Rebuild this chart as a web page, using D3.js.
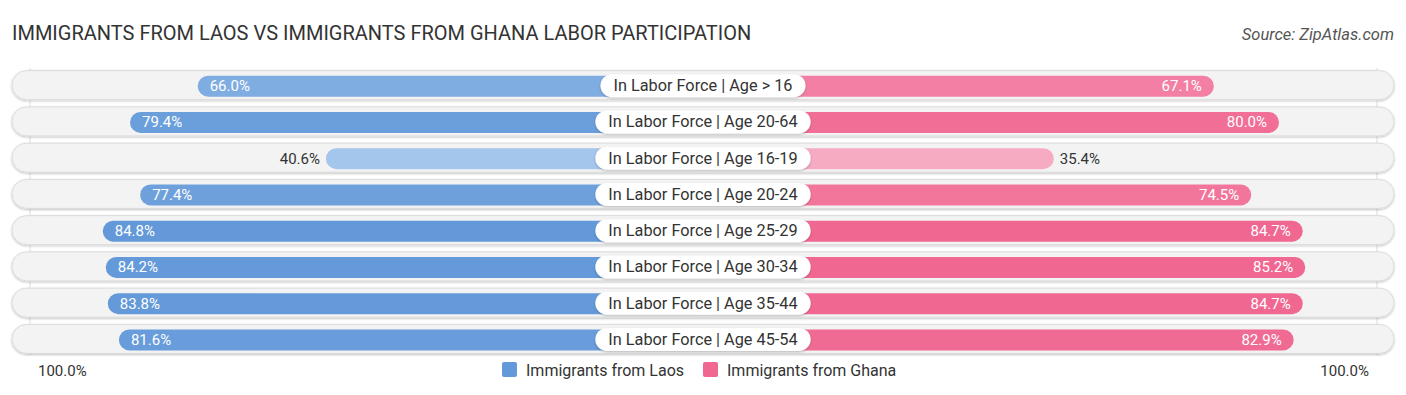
<!DOCTYPE html>
<html lang="en">
<head>
  <meta charset="UTF-8">
  <title>Labor Participation</title>
  <script src="https://d3js.org/d3.v7.min.js"></script>
  <style>
    body { margin: 0; background: #fff; font-family: Roboto, "Noto Sans", sans-serif; }
    .title { font-size: 20px; fill: #333; }
    .source { font-size: 16.5px; fill: #555; font-style: italic; }
  </style>
</head>
<body>
  <div id="chart"></div>
  <script>
    // data
    const categories = [
      "In Labor Force | Age > 16",
      "In Labor Force | Age 20-64",
      "In Labor Force | Age 16-19",
      "In Labor Force | Age 20-24",
      "In Labor Force | Age 25-29",
      "In Labor Force | Age 30-34",
      "In Labor Force | Age 35-44",
      "In Labor Force | Age 45-54"
    ];
    const laos = [66.0, 79.4, 40.6, 77.4, 84.8, 84.2, 83.8, 81.6];
    const ghana = [67.1, 80.0, 35.4, 74.5, 84.7, 85.2, 84.7, 82.9];
    const seriesNames = ["Immigrants from Laos", "Immigrants from Ghana"];
    const axisLabels = ["100.0%", "100.0%"];

    const W = 1406, H = 395;
    const svg = d3.select("#chart").append("svg")
      .attr("width", W).attr("height", H);

    const defs = svg.append("defs");
    const sh = defs.append("filter").attr("id", "shadow")
      .attr("x", "-10%").attr("y", "-30%").attr("width", "120%").attr("height", "170%");
    sh.append("feDropShadow").attr("dx", 0).attr("dy", 1).attr("stdDeviation", 1)
      .attr("flood-color", "#000").attr("flood-opacity", 0.25);

    svg.append("text").attr("class", "title").attr("x", 12).attr("y", 40)
      .text("IMMIGRANTS FROM LAOS VS IMMIGRANTS FROM GHANA LABOR PARTICIPATION");
    svg.append("text").attr("class", "source").attr("x", 1394).attr("y", 40)
      .attr("text-anchor", "end").text("Source: ZipAtlas.com");

    // scales
    const y = d3.scaleBand().domain(categories).range([67, 357]).paddingInner(0.2).paddingOuter(0.1);
    const xL = d3.scaleLinear().domain([0, 100]).range([531, 26]);
    const xR = d3.scaleLinear().domain([0, 100]).range([875, 1380]);
    const blue = d3.scaleLinear().domain([30, 85]).range(["#b3d0f0", "#6399d9"]).clamp(true);
    const pink = d3.scaleLinear().domain([30, 85]).range(["#f8b2c8", "#f06892"]).clamp(true);

    // faint gridlines at 100%
    [xL(100) + 4, xR(100) - 3].forEach(x => {
      svg.append("line").attr("x1", x).attr("x2", x).attr("y1", 68).attr("y2", 355)
        .attr("stroke", "#ddd").attr("stroke-width", 1);
    });

    const rowH = 29, barH = 21;
    const rows = svg.selectAll(".row").data(categories).enter().append("g")
      .attr("class", "row")
      .attr("transform", d => `translate(0,${y(d) + y.bandwidth() / 2})`);

    // track
    rows.append("rect")
      .attr("x", 12).attr("y", -rowH / 2).attr("width", 1382).attr("height", rowH)
      .attr("rx", rowH / 2).attr("fill", "#f3f3f3").attr("stroke", "#dcdcdc")
      .attr("stroke-width", 1).attr("filter", "url(#shadow)");

    // left bars (Laos)
    rows.append("rect")
      .attr("x", (d, i) => xL(laos[i]))
      .attr("y", -barH / 2 + 1).attr("height", barH)
      .attr("width", (d, i) => 703 - xL(laos[i]))
      .attr("rx", barH / 2).attr("fill", (d, i) => blue(laos[i]));

    // right bars (Ghana)
    rows.append("rect")
      .attr("x", 703)
      .attr("y", -barH / 2 + 1).attr("height", barH)
      .attr("width", (d, i) => xR(ghana[i]) - 703)
      .attr("rx", barH / 2).attr("fill", (d, i) => pink(ghana[i]));

    // value labels
    rows.append("text")
      .attr("x", (d, i) => laos[i] > 50 ? xL(laos[i]) + 12 : xL(laos[i]) - 6)
      .attr("y", 6).attr("font-size", 15)
      .attr("text-anchor", (d, i) => laos[i] > 50 ? "start" : "end")
      .attr("fill", (d, i) => laos[i] > 50 ? "#fff" : "#333")
      .text((d, i) => laos[i].toFixed(1) + "%");
    rows.append("text")
      .attr("x", (d, i) => ghana[i] > 50 ? xR(ghana[i]) - 12 : xR(ghana[i]) + 6)
      .attr("y", 6).attr("font-size", 15)
      .attr("text-anchor", (d, i) => ghana[i] > 50 ? "end" : "start")
      .attr("fill", (d, i) => ghana[i] > 50 ? "#fff" : "#333")
      .text((d, i) => ghana[i].toFixed(1) + "%");

    // category pills
    rows.each(function (d) {
      const g = d3.select(this);
      const pill = g.append("rect").attr("fill", "#fff").attr("filter", "url(#shadow)");
      const t = g.append("text").attr("x", 703).attr("y", 6)
        .attr("text-anchor", "middle").attr("font-size", 16.3).attr("fill", "#333").text(d);
      const w = t.node().getComputedTextLength() + 26;
      pill.attr("x", 703 - w / 2).attr("y", -11).attr("width", w).attr("height", 23).attr("rx", 11.5);
    });

    // axis labels
    svg.append("text").attr("x", 38).attr("y", 376).attr("font-size", 15).attr("fill", "#333")
      .text(axisLabels[0]);
    svg.append("text").attr("x", 1369).attr("y", 376).attr("font-size", 15).attr("fill", "#333")
      .attr("text-anchor", "end").text(axisLabels[1]);

    // legend
    const leg = svg.append("g");
    const legItems = [
      { name: seriesNames[0], color: "#6399d9", x: 502 },
      { name: seriesNames[1], color: "#f06892", x: 703 }
    ];
    legItems.forEach(it => {
      leg.append("rect").attr("x", it.x).attr("y", 362).attr("width", 15).attr("height", 15)
        .attr("rx", 2).attr("fill", it.color);
      leg.append("text").attr("x", it.x + 24).attr("y", 376).attr("font-size", 16)
        .attr("fill", "#333").text(it.name);
    });
  </script>
</body>
</html>
